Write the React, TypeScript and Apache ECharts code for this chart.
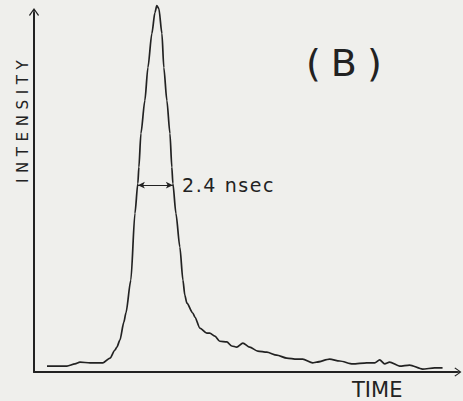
import React, { useEffect, useRef } from "react";
import * as echarts from "echarts";

// Time in ns, intensity normalised to peak = 100
const timeNs = [0.89, 1.58, 2.26, 2.81, 3.15, 3.84, 4.73, 5.21, 5.55, 5.68, 5.89, 6.16, 6.3, 6.64, 6.92, 7.12, 7.19, 7.33, 7.6, 7.81, 8.08, 8.29, 8.42, 8.56, 8.77, 8.9, 9.11, 9.32, 9.45, 9.52, 9.73, 10.0, 10.21, 10.34, 10.48, 10.89, 11.03, 11.37, 11.85, 12.05, 12.4, 12.74, 13.22, 13.56, 13.9, 14.32, 14.79, 15.34, 15.96, 16.64, 17.33, 18.01, 18.42, 19.11, 19.38, 20.27, 20.96, 21.85, 22.81, 23.36, 23.7, 24.04, 24.38, 25.07, 25.75, 26.64, 27.47, 28.01];
const intensity = [1.6, 1.6, 1.6, 2.2, 2.7, 2.5, 2.5, 3.8, 6.0, 6.8, 8.7, 13.6, 16.1, 25.1, 43.3, 51.5, 55.9, 65.1, 74.1, 83.1, 92.4, 98.1, 100, 99.2, 92.4, 83.1, 74.1, 65.1, 55.9, 51.5, 43.3, 34.1, 25.1, 21.0, 18.8, 16.1, 15.0, 12.0, 10.6, 10.6, 9.8, 8.4, 8.2, 7.1, 6.8, 7.9, 6.8, 5.7, 5.4, 4.6, 3.8, 3.5, 3.5, 2.5, 2.7, 3.5, 3.0, 2.2, 2.5, 2.5, 3.3, 2.2, 2.7, 1.6, 1.9, 0.8, 1.1, 1.1];

// FWHM marker
const fwhmStart = 7.12;
const fwhmEnd = 9.52;
const fwhmLevel = 51;
const fwhmLabel = "2.4 nsec";
const panelLabel = "(B)";
const yTitle = "INTENSITY";
const xTitle = "TIME";

const xMax = 29;
const yMax = 98;

const ink = "#222222";
const chevron =
  "path://M0,0 L5,7 L4.1,7.9 L0.7,3 L0.7,10 L-0.7,10 L-0.7,3 L-4.1,7.9 L-5,7 Z";

const spacing: Record<string, string> = {
  [yTitle]: "5.6px",
  [panelLabel]: "10px",
  [fwhmLabel]: "1.6px",
};

export default function App() {
  const ref = useRef<HTMLDivElement>(null);
  useEffect(() => {
    if (!ref.current) return;
    const chart = echarts.init(ref.current, undefined, { renderer: "svg" });
    const data = timeNs.map((t, i) => [t, intensity[i]]);
    chart.setOption({
      animation: false,
      backgroundColor: "#efefec",
      grid: { left: 34, right: 6, top: 13, bottom: 29 },
      xAxis: {
        type: "value",
        min: 0,
        max: xMax,
        axisLine: {
          show: true,
          symbol: ["none", chevron],
          symbolSize: [9, 10],
          lineStyle: { color: ink, width: 2 },
        },
        axisTick: { show: false },
        axisLabel: { show: false },
        splitLine: { show: false },
      },
      yAxis: {
        type: "value",
        min: 0,
        max: yMax,
        axisLine: {
          show: true,
          symbol: ["none", chevron],
          symbolSize: [10, 10],
          lineStyle: { color: ink, width: 2 },
        },
        axisTick: { show: false },
        axisLabel: { show: false },
        splitLine: { show: false },
      },
      series: [
        {
          type: "line",
          data,
          clip: false,
          showSymbol: false,
          symbol: "none",
          smooth: 0.25,
          smoothMonotone: "x",
          lineStyle: { color: ink, width: 1.7 },
          markLine: {
            silent: true,
            symbol: ["arrow", "arrow"],
            symbolSize: [5, 7],
            label: { show: false },
            lineStyle: { color: ink, width: 1, type: "solid" },
            data: [[{ coord: [fwhmStart, fwhmLevel] }, { coord: [fwhmEnd, fwhmLevel] }]],
          },
        },
      ],
      graphic: [
        {
          type: "text",
          x: 23,
          y: 183,
          rotation: Math.PI / 2,
          style: {
            text: yTitle,
            fontSize: 15,
            fontFamily: "DejaVu Sans",
            fill: ink,
            align: "left",
            verticalAlign: "middle",
          },
        },
        {
          type: "text",
          x: 352,
          y: 389.5,
          style: {
            text: xTitle,
            fontSize: 21,
            fontFamily: "DejaVu Sans",
            fill: ink,
            align: "left",
            verticalAlign: "middle",
          },
        },
        {
          type: "text",
          x: 306,
          y: 63,
          style: {
            text: panelLabel,
            fontSize: 38,
            fontFamily: "DejaVu Sans",
            fill: ink,
            align: "left",
            verticalAlign: "middle",
          },
        },
        {
          type: "text",
          x: 182,
          y: 185,
          style: {
            text: fwhmLabel,
            fontSize: 19,
            fontFamily: "DejaVu Sans",
            fill: ink,
            align: "left",
            verticalAlign: "middle",
          },
        },
      ],
    });
    const applySpacing = () => {
      if (!ref.current) return;
      ref.current.querySelectorAll("text").forEach((el) => {
        const s = spacing[(el.textContent || "").trim()];
        if (s) (el as SVGTextElement).style.letterSpacing = s;
      });
    };
    applySpacing();
    chart.on("finished", applySpacing);
    const raf = requestAnimationFrame(applySpacing);
    const tm = setTimeout(applySpacing, 50);
    return () => {
      cancelAnimationFrame(raf);
      clearTimeout(tm);
      chart.dispose();
    };
  }, []);
  return (
    <div
      ref={ref}
      style={{ position: "fixed", left: 0, top: 0, width: 463, height: 401 }}
    />
  );
}
